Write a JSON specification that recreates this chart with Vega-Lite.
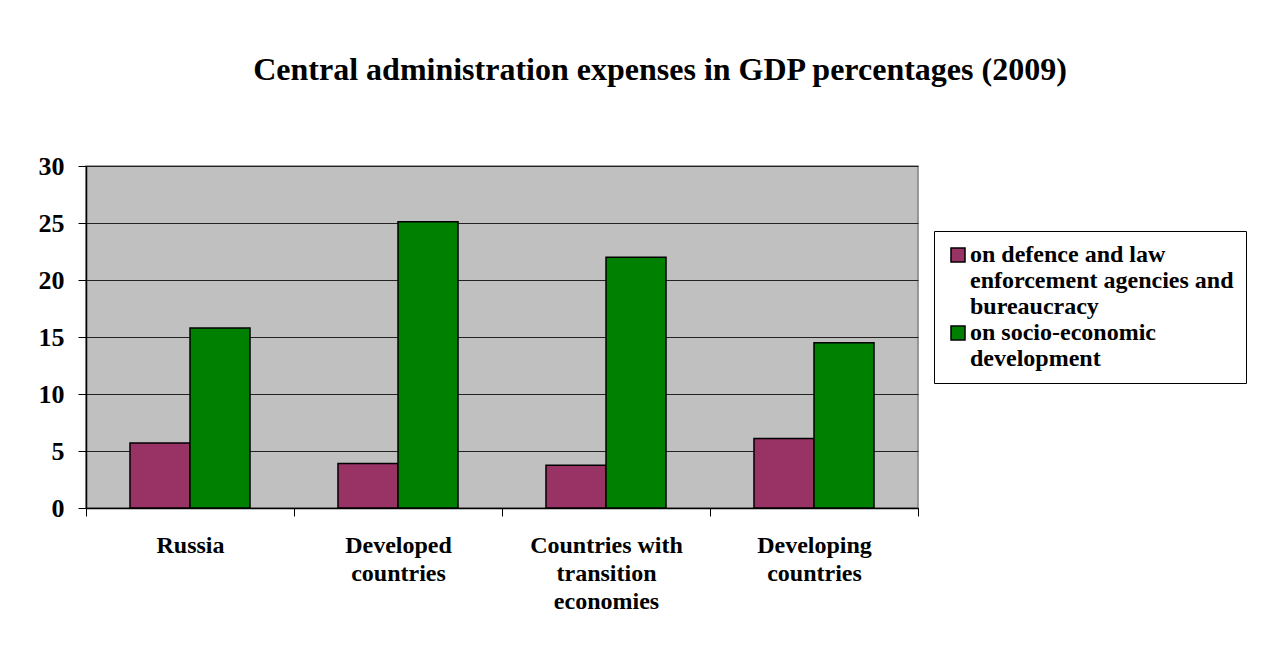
{
  "$schema": "https://vega.github.io/schema/vega-lite/v6.json",
  "width": 832,
  "height": 342,
  "autosize": "none",
  "padding": {"left": 86, "top": 166, "right": 365, "bottom": 151},
  "background": "white",
  "title": {
    "text": "Central administration expenses in GDP percentages (2009)",
    "font": "Liberation Serif",
    "fontSize": 32,
    "fontWeight": "bold",
    "color": "black",
    "anchor": "middle",
    "dx": 158,
    "offset": 66
  },
  "data": {
    "values": [
      {"region": "Russia", "series": "on defence and law enforcement agencies and bureaucracy", "value": 5.7},
      {"region": "Russia", "series": "on socio-economic development", "value": 15.8},
      {"region": "Developed countries", "series": "on defence and law enforcement agencies and bureaucracy", "value": 3.9},
      {"region": "Developed countries", "series": "on socio-economic development", "value": 25.1},
      {"region": "Countries with transition economies", "series": "on defence and law enforcement agencies and bureaucracy", "value": 3.75},
      {"region": "Countries with transition economies", "series": "on socio-economic development", "value": 22.0},
      {"region": "Developing countries", "series": "on defence and law enforcement agencies and bureaucracy", "value": 6.1},
      {"region": "Developing countries", "series": "on socio-economic development", "value": 14.5}
    ]
  },
  "mark": {"type": "bar", "stroke": "black", "strokeWidth": 1.5},
  "encoding": {
    "x": {
      "field": "region",
      "type": "nominal",
      "sort": null,
      "scale": {"paddingInner": 0, "paddingOuter": 0},
      "axis": {
        "title": null,
        "labelAngle": 0,
        "labelFont": "Liberation Serif",
        "labelFontSize": 24,
        "labelFontWeight": "bold",
        "labelColor": "black",
        "labelPadding": 17,
        "labelLineHeight": 28,
        "labelLimit": 300,
        "labelExpr": "datum.label == 'Russia' ? ['Russia'] : datum.label == 'Developed countries' ? ['Developed', 'countries'] : datum.label == 'Countries with transition economies' ? ['Countries with', 'transition', 'economies'] : datum.label == 'Developing countries' ? ['Developing', 'countries'] : ''",
        "tickBand": "extent",
        "tickSize": 8,
        "tickColor": "black",
        "domainColor": "black",
        "domainWidth": 1.5,
        "grid": false
      }
    },
    "xOffset": {
      "field": "series",
      "type": "nominal",
      "scale": {"paddingInner": 0, "paddingOuter": 0.733}
    },
    "y": {
      "field": "value",
      "type": "quantitative",
      "scale": {"domain": [0, 30], "nice": false},
      "axis": {
        "title": null,
        "values": [0, 5, 10, 15, 20, 25, 30],
        "labelFont": "Liberation Serif",
        "labelFontSize": 26,
        "labelFontWeight": "bold",
        "labelColor": "black",
        "labelPadding": 14,
        "tickSize": 8,
        "tickColor": "black",
        "domainColor": "black",
        "domainWidth": 1.5,
        "grid": true,
        "gridColor": "#222222",
        "gridWidth": 1.2
      }
    },
    "fill": {
      "field": "series",
      "type": "nominal",
      "scale": {
        "domain": ["on defence and law enforcement agencies and bureaucracy", "on socio-economic development"],
        "range": ["#993366", "#008000"]
      },
      "legend": {
        "title": null,
        "orient": "none",
        "legendX": 848,
        "legendY": 65,
        "fillColor": "white",
        "strokeColor": "black",
        "padding": 12,
        "symbolType": "square",
        "symbolSize": 196,
        "symbolStrokeColor": "black",
        "symbolStrokeWidth": 1.5,
        "labelFont": "Liberation Serif",
        "labelFontSize": 24,
        "labelFontWeight": "bold",
        "labelColor": "black",
        "labelLineHeight": 27,
        "labelOffset": 0,
        "labelLimit": 340,
        "rowPadding": 2,
        "labelExpr": "datum.label == 'on socio-economic development' ? ['on socio-economic', 'development'] : ['on defence and law', 'enforcement agencies and', 'bureaucracy']"
      }
    }
  },
  "config": {
    "view": {"fill": "#C0C0C0", "stroke": "#808080", "strokeWidth": 1.5}
  }
}
